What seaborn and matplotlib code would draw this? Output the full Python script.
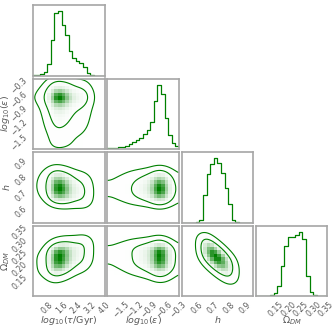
import numpy as np
import matplotlib
matplotlib.use("Agg")
import matplotlib.pyplot as plt
import seaborn as sns
from matplotlib.colors import LinearSegmentedColormap

# ---------------- data ----------------
param_labels = [r"$log_{10}(\tau/{\rm Gyr})$", r"$log_{10}(\epsilon)$", r"$h$", r"$\Omega_{DM}$"]
param_ranges = [(0.0, 4.0), (-1.78, -0.29), (0.505, 0.95), (0.07, 0.355)]
tick_values = [[0.8, 1.6, 2.4, 3.2, 4.0],
               [-1.5, -1.2, -0.9, -0.6, -0.3],
               [0.6, 0.7, 0.8, 0.9],
               [0.15, 0.20, 0.25, 0.30, 0.35]]
tick_labels = [["0.8", "1.6", "2.4", "3.2", "4.0"],
               ["\u22121.5", "\u22121.2", "\u22120.9", "\u22120.6", "\u22120.3"],
               ["0.6", "0.7", "0.8", "0.9"],
               ["0.15", "0.20", "0.25", "0.30", "0.35"]]

tau_counts = [1, 2, 5, 9, 33, 104, 185, 190, 150, 121, 73, 51, 42, 36, 25, 8, 1, 0, 0, 0]
eps_counts = [3, 3, 4, 5, 7, 10, 15, 20, 26, 32, 43, 54, 79, 139, 187, 161, 89, 41, 18, 8]
h_counts = [0, 0, 0, 0, 1, 7, 82, 147, 177, 193, 180, 149, 105, 57, 9, 2, 0, 0, 0, 0]
om_counts = [0, 0, 0, 0, 2, 10, 30, 90, 150, 176, 175, 183, 191, 170, 60, 12, 2, 0, 0, 0]
counts = [tau_counts, eps_counts, h_counts, om_counts]

# linear dependence between pairs (slope of y on x) and residual width scale
pair_slope = {(0, 1): 0.0, (0, 2): -0.015, (0, 3): 0.018, (1, 2): 0.0, (1, 3): -0.01, (2, 3): -0.55}
pair_scale = {(0, 1): 1.0, (0, 2): 1.0, (0, 3): 0.95, (1, 2): 1.0, (1, 3): 1.0, (2, 3): 0.7}
levels_mass = [0.865, 0.989]

# ---------------- helpers ----------------
def blur(a, sig):
    r = int(3 * sig) + 1
    k = np.exp(-0.5 * (np.arange(-r, r + 1) / sig) ** 2)
    k /= k.sum()
    f = lambda v: np.convolve(np.pad(v, r, mode="edge"), k, mode="valid")
    a = np.apply_along_axis(f, 0, a)
    a = np.apply_along_axis(f, 1, a)
    return a

nb = 20
edges = [np.linspace(lo, hi, nb + 1) for lo, hi in param_ranges]
cents = [0.5 * (e[1:] + e[:-1]) for e in edges]
means = [np.average(c, weights=np.array(h, float)) for c, h in zip(cents, counts)]

def density(xv, yv, i, j):
    fx = np.interp(xv, cents[i], counts[i])
    b, s = pair_slope[(i, j)], pair_scale[(i, j)]
    yr = means[j] + (yv - means[j] - b * (xv - means[i])) / s
    fy = np.interp(yr, cents[j], counts[j], left=0, right=0)
    return fx * fy / s

def mass_levels(D, fracs):
    flat = np.sort(D.ravel())[::-1]
    cs = np.cumsum(flat)
    cs /= cs[-1]
    out = []
    for f in fracs:
        idx = np.searchsorted(cs, f)
        out.append(flat[min(idx, len(flat) - 1)])
    return sorted(out)

# ---------------- style ----------------
sns.set_style("white")
plt.rcParams["font.family"] = ["DejaVu Sans"]
plt.rcParams["mathtext.fontset"] = "dejavusans"

W, H = 336, 330
fig = plt.figure(figsize=(W / 100, H / 100), dpi=100)
left0, top0, pw, ph, gx, gy = 33.0, 5.0, 71.5, 70.5, 2.8, 3.0
cmap = LinearSegmentedColormap.from_list("dens", [(1, 1, 1, 0), "green"])
spine_col, txt_col = "0.65", "0.35"
fine = 140
sig_bins = 1.0

n = 4
for r in range(n):
    for c in range(r + 1):
        l = left0 + c * (pw + gx)
        t = top0 + r * (ph + gy)
        ax = fig.add_axes([l / W, 1 - (t + ph) / H, pw / W, ph / H])
        if r == c:
            sns.histplot(x=np.asarray(cents[c]), weights=np.asarray(counts[c], float),
                         bins=nb, binrange=param_ranges[c], element="step",
                         fill=False, color="green", linewidth=0.9, ax=ax)
            ymax = 1.1 * max(counts[c])
            ax.set_ylim(0, ymax)
            fr = [0.48, 0.96] if c == 2 else [0.25, 0.5, 0.76]
            ax.set_yticks([f * ymax for f in fr])
            ax.set_yticklabels([])
            ax.set_ylabel("")
        else:
            i, j = c, r
            XC, YC = np.meshgrid(cents[i], cents[j])
            Wg = blur(density(XC, YC, i, j), sig_bins)
            sns.histplot(x=XC.ravel(), y=YC.ravel(), weights=Wg.ravel(),
                         bins=nb, binrange=(param_ranges[i], param_ranges[j]),
                         cmap=cmap, vmin=0, vmax=Wg.max(), ax=ax)
            xf = np.linspace(*param_ranges[i], fine)
            yf = np.linspace(*param_ranges[j], fine)
            XF, YF = np.meshgrid(xf, yf)
            Df = blur(density(XF, YF, i, j), sig_bins * fine / nb)
            lv = mass_levels(Df, levels_mass)
            ax.contour(XF, YF, Df, levels=lv, colors="green", linewidths=0.8)
            ax.set_ylim(*param_ranges[j])
            ax.set_yticks(tick_values[j])
            if c == 0:
                ax.set_yticklabels(tick_labels[j], rotation=45)
                ax.set_ylabel(param_labels[j], fontsize=6.8, color=txt_col)
                ax.yaxis.set_label_coords(-0.3, 0.5)
            else:
                ax.set_yticklabels([])
                ax.set_ylabel("")
        ax.set_xlim(*param_ranges[c])
        ax.set_xticks(tick_values[c])
        if r == n - 1:
            ax.set_xticklabels(tick_labels[c], rotation=45)
            ax.set_xlabel(param_labels[c], fontsize=6.8, color=txt_col)
            ax.xaxis.set_label_coords(0.5, -0.26)
        else:
            ax.set_xticklabels([])
            ax.set_xlabel("")
        ax.tick_params(direction="out", length=2, width=0.6, color="0.55",
                       labelsize=5.6, labelcolor=txt_col, pad=1)
        ax.grid(False)
        for s in ax.spines.values():
            s.set_color(spine_col)
            s.set_linewidth(1.2)

fig.savefig("out.png", dpi=100)
